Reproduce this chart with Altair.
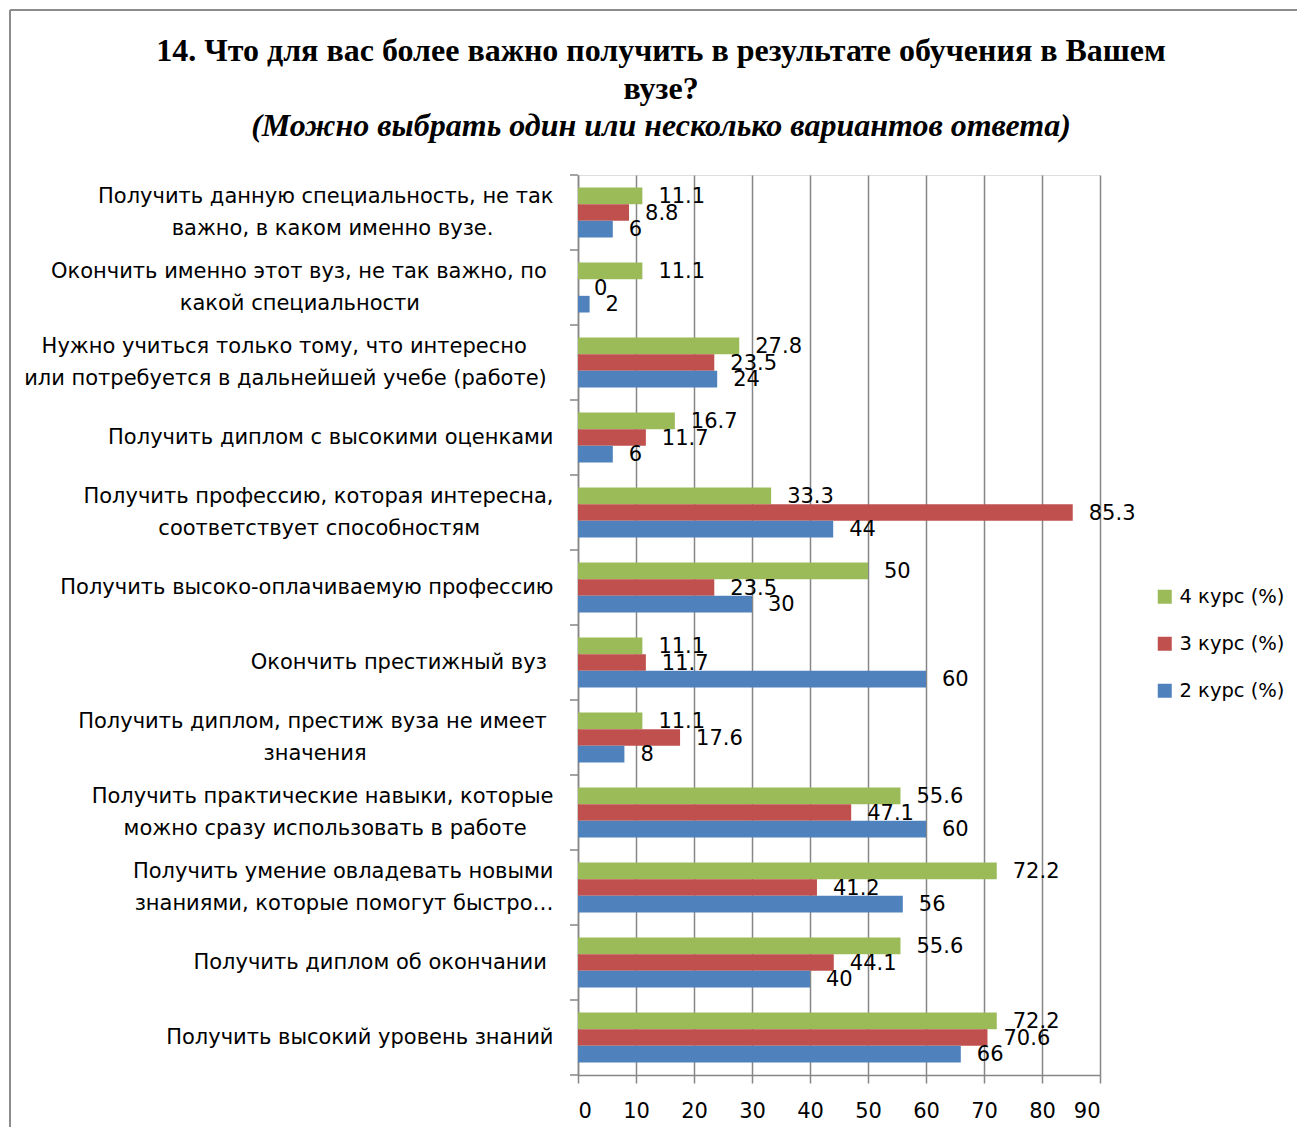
import altair as alt
import pandas as pd

# ---------------- data ----------------
label_lines = [
    ["Получить данную специальность, не так", "важно, в каком именно вузе."],
    ["Окончить именно этот вуз, не так важно, по", "какой специальности"],
    ["Нужно учиться только тому, что интересно", "или потребуется в дальнейшей учебе (работе)"],
    ["Получить диплом с высокими оценками"],
    ["Получить профессию, которая интересна,", "соответствует способностям"],
    ["Получить высоко-оплачиваемую профессию"],
    ["Окончить престижный вуз"],
    ["Получить диплом, престиж вуза не имеет", "значения"],
    ["Получить практические навыки, которые", "можно сразу использовать в работе"],
    ["Получить умение овладевать новыми", "знаниями, которые помогут быстро…"],
    ["Получить диплом об окончании"],
    ["Получить высокий уровень знаний"],
]
courses = ["4 курс (%)", "3 курс (%)", "2 курс (%)"]
v4 = [11.1, 11.1, 27.8, 16.7, 33.3, 50, 11.1, 11.1, 55.6, 72.2, 55.6, 72.2]
v3 = [8.8, 0, 23.5, 11.7, 85.3, 23.5, 11.7, 17.6, 47.1, 41.2, 44.1, 70.6]
v2 = [6, 2, 24, 6, 44, 30, 60, 8, 60, 56, 40, 66]
x_ticks = [0, 10, 20, 30, 40, 50, 60, 70, 80, 90]

title_lines = ["14. Что для вас более важно получить в результате обучения в Вашем", "вузе?"]
subtitle_line = "(Можно выбрать один или несколько вариантов ответа)"

# ---------------- styling / layout ----------------
colors = ["#9BBB59", "#C0504D", "#4F81BD"]
GRAY = "#868686"
FONT = "DejaVu Sans"
SERIF = "Liberation Serif"
FS = 21
W, H = 522, 900
PAD = {"left": 570, "top": 167, "right": 197, "bottom": 52}

# trailing non-breaking spaces (kept by a zero-width space) imitate centred multi-line labels
label_pad = [[0, 9], [1, 20], [4, 1], [0], [0, 11], [0], [1], [1, 28], [0, 4], [0, 0], [1], [0]]
NB = "\u00a0"
ZW = "\u200b"
cats = ["|".join(l + (NB * p + ZW if p else "") for l, p in zip(lines, pads))
        for lines, pads in zip(label_lines, label_pad)]

rows = []
for i, c in enumerate(cats):
    for s, vals in zip(courses, [v4, v3, v2]):
        rows.append({"cat": c, "course": s, "value": vals[i]})
df = pd.DataFrame(rows)
cat_df = pd.DataFrame({"cat": cats})

y_scale = alt.Scale(domain=cats, paddingInner=0, paddingOuter=0)
yoff_scale = alt.Scale(domain=courses, paddingInner=0, paddingOuter=0.75)
x_scale = alt.Scale(domain=[0, 90], nice=False)

base = alt.Chart(df)

bars = base.mark_bar().encode(
    x=alt.X("value:Q", scale=x_scale,
            axis=alt.Axis(values=x_ticks, grid=True, gridColor=GRAY, gridWidth=1.5,
                          tickColor=GRAY, tickSize=8, tickWidth=1.5, domainColor=GRAY, domainWidth=1.5,
                          labelFont=FONT, labelFontSize=FS, labelColor="black", labelPadding=17,
                          title=None)),
    y=alt.Y("cat:N", scale=y_scale, sort=cats,
            axis=alt.Axis(labelExpr="split(datum.label, '|')", labelFont=FONT, labelFontSize=FS,
                          labelLineHeight=32, labelColor="black", labelPadding=25, labelLimit=0,
                          labelOffset={"condition": {"test": "indexof(datum.value, '|') >= 0", "value": -16},
                                       "value": 0},
                          ticks=False, domainColor=GRAY, domainWidth=1.5, grid=False, title=None)),
    yOffset=alt.YOffset("course:N", scale=yoff_scale),
    color=alt.Color("course:N", scale=alt.Scale(domain=courses, range=colors),
                    legend=alt.Legend(title=None, orient="none", legendX=577, legendY=412,
                                      symbolType="square", symbolSize=196, symbolStrokeWidth=0,
                                      labelFont=FONT, labelFontSize=19.5, labelColor="black",
                                      rowPadding=26, labelOffset=5)),
)

labels = base.mark_text(align="left", baseline="middle", dx=16, dy=1, font=FONT, fontSize=FS,
                        color="black").encode(
    x=alt.X("value:Q", scale=x_scale),
    y=alt.Y("cat:N", scale=y_scale, sort=cats),
    yOffset=alt.YOffset("course:N", scale=yoff_scale),
    text=alt.Text("value:Q", format="~g"),
)

cat_ticks = alt.Chart(cat_df).mark_rule(color=GRAY, strokeWidth=1.5).encode(
    y=alt.Y("cat:N", scale=y_scale, sort=cats, bandPosition=0),
    x=alt.value(-8), x2=alt.value(0),
)
bottom_tick = alt.Chart(alt.Data(values=[{"k": 1}])).mark_rule(color=GRAY, strokeWidth=1.5).encode(
    y=alt.value(H), x=alt.value(-8), x2=alt.value(0),
)

frame_top = alt.Chart(alt.Data(values=[{"k": 1}])).mark_rule(color="#8C8C8C", strokeWidth=2).encode(
    y=alt.value(-165), x=alt.value(-568), x2=alt.value(719),
)
frame_left = alt.Chart(alt.Data(values=[{"k": 1}])).mark_rule(color="#8C8C8C", strokeWidth=2).encode(
    x=alt.value(-568), y=alt.value(-165), y2=alt.value(952),
)

chart = alt.layer(bars, labels, cat_ticks, bottom_tick, frame_top, frame_left).properties(
    width=W, height=H,
    autosize=alt.AutoSizeParams(type="none"),
    padding=PAD,
    title=alt.TitleParams(
        text=title_lines, subtitle=[subtitle_line],
        font=SERIF, fontSize=32, fontWeight="bold", color="black", lineHeight=38,
        subtitleFont=SERIF, subtitleFontSize=32, subtitleFontWeight="bold",
        subtitleFontStyle="italic", subtitleColor="black", subtitleLineHeight=38,
        subtitlePadding=5, anchor="middle", frame="group", dx=-178, offset=0, dy=134,
    ),
).configure_view(stroke=None).configure(background="white")

chart.save("out.html", embed_options={"renderer": "svg", "actions": False})
